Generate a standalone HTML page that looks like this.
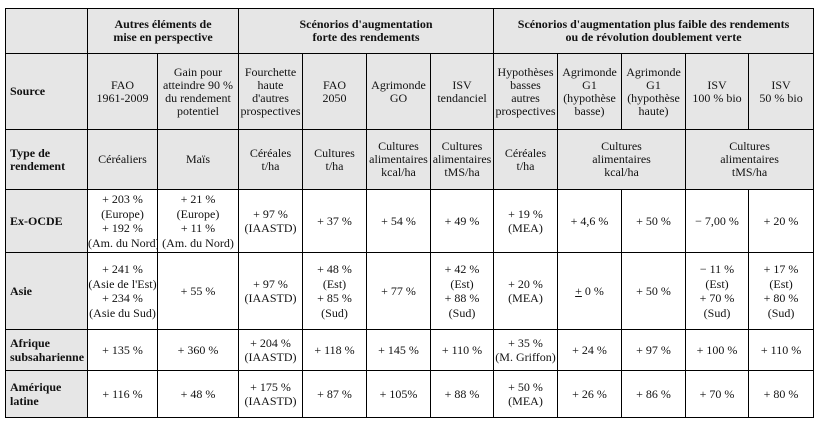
<!DOCTYPE html>
<html><head><meta charset="utf-8"><style>
body{margin:0;background:#fff;width:819px;height:422px;overflow:hidden}
table{position:absolute;left:5px;top:8px;border-collapse:collapse;table-layout:fixed;width:808px;font-family:"Liberation Serif",serif;font-size:12px;line-height:13px;color:#111}
td{border:1px solid #000;text-align:center;vertical-align:middle;padding:0;overflow:hidden;white-space:nowrap}
tr.d td{line-height:14.5px}
.g{background:#e6e6e6}
.b{font-weight:bold}
.l{text-align:left;padding-left:4px;font-weight:bold}
</style></head><body>
<table>
<colgroup><col style="width:82px"><col style="width:70px"><col style="width:81px"><col style="width:64px"><col style="width:64px"><col style="width:64px"><col style="width:63px"><col style="width:64px"><col style="width:64px"><col style="width:64px"><col style="width:63px"><col style="width:65px"></colgroup>
<tr style="height:45px" class="g"><td></td><td colspan="2" class="b">Autres éléments de<br>mise en perspective</td><td colspan="4" class="b">Scénorios d'augmentation<br>forte des rendements</td><td colspan="5" class="b">Scénorios d'augmentation plus faible des rendements<br>ou de révolution doublement verte</td></tr>
<tr style="height:76px" class="g"><td class="l">Source</td><td>FAO<br>1961-2009</td><td>Gain pour<br>atteindre 90 %<br>du rendement<br>potentiel</td><td>Fourchette<br>haute<br>d'autres<br>prospectives</td><td>FAO<br>2050</td><td>Agrimonde<br>GO</td><td>ISV<br>tendanciel</td><td>Hypothèses<br>basses<br>autres<br>prospectives</td><td>Agrimonde<br>G1<br>(hypothèse<br>basse)</td><td>Agrimonde<br>G1<br>(hypothèse<br>haute)</td><td>ISV<br>100 % bio</td><td>ISV<br>50 % bio</td></tr>
<tr style="height:60px" class="g"><td class="l">Type de<br>rendement</td><td>Céréaliers</td><td>Maïs</td><td>Céréales<br>t/ha</td><td>Cultures<br>t/ha</td><td>Cultures<br>alimentaires<br>kcal/ha</td><td>Cultures<br>alimentaires<br>tMS/ha</td><td>Céréales<br>t/ha</td><td colspan="2">Cultures<br>alimentaires<br>kcal/ha</td><td colspan="2">Cultures<br>alimentaires<br>tMS/ha</td></tr>
<tr style="height:63px" class="d"><td class="l g">Ex-OCDE</td><td>+ 203 %<br>(Europe)<br>+ 192 %<br>(Am. du Nord)</td><td>+ 21 %<br>(Europe)<br>+ 11 %<br>(Am. du Nord)</td><td>+ 97 %<br>(IAASTD)</td><td>+ 37 %</td><td>+ 54 %</td><td>+ 49 %</td><td>+ 19 %<br>(MEA)</td><td>+ 4,6 %</td><td>+ 50 %</td><td>− 7,00 %</td><td>+ 20 %</td></tr>
<tr style="height:77px" class="d"><td class="l g">Asie</td><td>+ 241 %<br>(Asie de l'Est)<br>+ 234 %<br>(Asie du Sud)</td><td>+ 55 %</td><td>+ 97 %<br>(IAASTD)</td><td>+ 48 %<br>(Est)<br>+ 85 %<br>(Sud)</td><td>+ 77 %</td><td>+ 42 %<br>(Est)<br>+ 88 %<br>(Sud)</td><td>+ 20 %<br>(MEA)</td><td><u>+</u> 0 %</td><td>+ 50 %</td><td>− 11 %<br>(Est)<br>+ 70 %<br>(Sud)</td><td>+ 17 %<br>(Est)<br>+ 80 %<br>(Sud)</td></tr>
<tr style="height:41px" class="d"><td class="l g">Afrique<br>subsaharienne</td><td>+ 135 %</td><td>+ 360 %</td><td>+ 204 %<br>(IAASTD)</td><td>+ 118 %</td><td>+ 145 %</td><td>+ 110 %</td><td>+ 35 %<br>(M. Griffon)</td><td>+ 24 %</td><td>+ 97 %</td><td>+ 100 %</td><td>+ 110 %</td></tr>
<tr style="height:47px" class="d"><td class="l g">Amérique<br>latine</td><td>+ 116 %</td><td>+ 48 %</td><td>+ 175 %<br>(IAASTD)</td><td>+ 87 %</td><td>+ 105%</td><td>+ 88 %</td><td>+ 50 %<br>(MEA)</td><td>+ 26 %</td><td>+ 86 %</td><td>+ 70 %</td><td>+ 80 %</td></tr>
</table>
</body></html>
